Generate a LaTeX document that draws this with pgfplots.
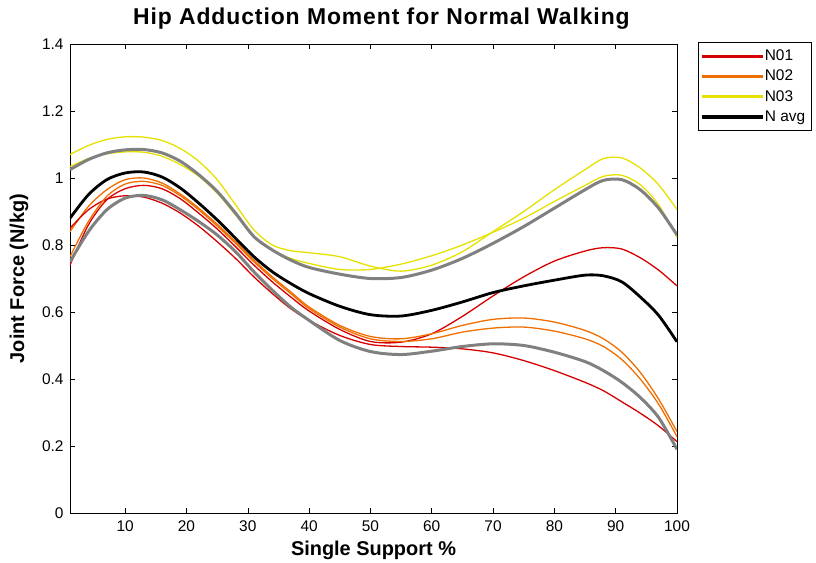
\documentclass[border=0pt]{standalone}
\usepackage{pgfplots}
\pgfplotsset{compat=1.18}
\usepackage{pgfplotstable}
\usepackage{fontspec}
\setmainfont{Liberation Sans}
\definecolor{cred}{RGB}{215,0,0}
\definecolor{corange}{RGB}{240,110,0}
\definecolor{cyellow}{RGB}{230,225,0}
\definecolor{cgrey}{RGB}{128,128,128}

\pgfplotstableread{
x y
1 1.07
4 1.097
7 1.115
10 1.123
13 1.122
16 1.112
19 1.088
22 1.05
25 0.995
28 0.92
31 0.845
34 0.80
37 0.783
40 0.777
45 0.765
50 0.737
55 0.722
60 0.74
65 0.78
70 0.84
75 0.9
80 0.965
85 1.025
88 1.058
91 1.06
94 1.03
97 0.98
100 0.906
}\yellowA
\pgfplotstableread{
x y
1 1.034
4 1.058
7 1.072
10 1.078
13 1.077
16 1.065
19 1.04
22 1.005
25 0.955
28 0.89
31 0.825
34 0.785
37 0.76
40 0.745
45 0.727
50 0.727
55 0.743
60 0.768
65 0.80
70 0.838
75 0.88
80 0.93
85 0.978
88 1.005
91 1.008
94 0.98
97 0.92
100 0.823
}\yellowB
\pgfplotstableread{
x y
1 1.025
4 1.055
7 1.075
10 1.084
13 1.085
16 1.075
19 1.05
22 1.01
25 0.96
28 0.895
31 0.825
34 0.785
37 0.755
40 0.733
45 0.713
50 0.70
55 0.703
60 0.725
65 0.76
70 0.805
75 0.855
80 0.91
85 0.965
88 0.993
91 0.995
94 0.965
97 0.91
100 0.83
}\greyU
\pgfplotstableread{
x y
1 0.88
4 0.95
7 0.995
10 1.015
13 1.018
16 1.003
19 0.97
22 0.925
25 0.875
28 0.82
31 0.765
34 0.72
37 0.685
40 0.655
45 0.617
50 0.592
55 0.588
60 0.605
65 0.63
70 0.658
75 0.678
80 0.695
85 0.71
88 0.708
91 0.69
94 0.645
97 0.59
100 0.511
}\navg
\pgfplotstableread{
x y
1 0.75
4 0.84
7 0.905
10 0.94
13 0.948
16 0.935
19 0.905
22 0.87
25 0.83
28 0.78
31 0.72
34 0.665
37 0.615
40 0.575
45 0.515
50 0.482
55 0.473
60 0.483
65 0.497
70 0.505
75 0.500
80 0.48
85 0.452
88 0.425
91 0.39
94 0.345
97 0.285
100 0.19
}\greyL
\pgfplotstableread{
x y
1 0.84
4 0.915
7 0.965
10 0.995
13 1.0
16 0.985
19 0.952
22 0.91
25 0.862
28 0.81
31 0.755
34 0.705
37 0.66
40 0.615
45 0.56
50 0.527
55 0.52
60 0.535
65 0.56
70 0.578
75 0.582
80 0.57
85 0.545
88 0.52
91 0.48
94 0.42
97 0.34
100 0.243
}\orangeA
\pgfplotstableread{
x y
1 0.765
4 0.87
7 0.945
10 0.982
13 0.99
16 0.978
19 0.947
22 0.905
25 0.857
28 0.805
31 0.75
34 0.70
37 0.655
40 0.61
45 0.555
50 0.52
55 0.512
60 0.52
65 0.54
70 0.552
75 0.555
80 0.543
85 0.52
88 0.497
91 0.458
94 0.40
97 0.325
100 0.228
}\orangeB
\pgfplotstableread{
x y
1 0.74
4 0.86
7 0.935
10 0.968
13 0.978
16 0.968
19 0.938
22 0.895
25 0.848
28 0.795
31 0.74
34 0.69
37 0.645
40 0.603
45 0.548
50 0.512
55 0.51
60 0.535
65 0.587
70 0.648
75 0.705
80 0.752
85 0.782
88 0.792
91 0.788
94 0.762
97 0.725
100 0.678
}\redP
\pgfplotstableread{
x y
1 0.85
4 0.905
7 0.937
10 0.947
13 0.943
16 0.925
19 0.895
22 0.856
25 0.81
28 0.76
31 0.705
34 0.655
37 0.61
40 0.575
45 0.53
50 0.503
55 0.497
60 0.495
65 0.49
70 0.478
75 0.455
80 0.425
85 0.39
88 0.365
91 0.332
94 0.298
97 0.26
100 0.213
}\redL

\begin{document}
\begin{tikzpicture}
\begin{axis}[
  scale only axis,
  width=607bp, height=469bp,
  xmin=1, xmax=100, ymin=0, ymax=1.4,
  xtick={10,20,...,100},
  ytick={0,0.2,0.4,0.6,0.8,1,1.2,1.4},
  yticklabels={0,0.2,0.4,0.6,0.8,1,1.2,1.4},
  tick align=inside, tick pos=both,
  major tick length=5bp,
  axis line style={line width=0.9bp},
  tick style={line width=0.6bp, black},
  /pgf/number format/assume math mode=true,
  tick label style={font=\fontsize{15.5}{18}\selectfont},
  xticklabel style={yshift=-4bp},
  yticklabel style={xshift=-3bp},
  title={Hip Adduction Moment for Normal Walking},
  title style={font=\bfseries\fontsize{23}{26}\selectfont\addfontfeatures{LetterSpace=4}, at={(axis description cs:0.513,1.041)}, anchor=center},
  xlabel={Single Support \%},
  xlabel style={font=\bfseries\fontsize{20}{24}\selectfont, at={(axis description cs:0.5,-0.079)}, anchor=center},
  ylabel={Joint Force (N/kg)},
  ylabel style={font=\bfseries\fontsize{20}{24}\selectfont, at={(axis description cs:-0.084,0.5)}, anchor=center},
  legend style={at={(axis description cs:1.035,1.004)}, anchor=north west, draw=black, fill=white,
    font=\fontsize{15.5}{18}\selectfont, inner xsep=4bp, inner ysep=5.5bp, row sep=4bp, cells={anchor=west}},
  legend image code/.code={\fill[#1] (0bp,-0.8bp) rectangle (60bp,0.8bp);},
]
\addplot[cred, line width=1.3bp, smooth, tension=0.5, forget plot] table {\redP};
\addplot[corange, line width=1.3bp, smooth, tension=0.5, forget plot] table {\orangeA};
\addplot[cyellow, line width=1.3bp, smooth, tension=0.5, forget plot] table {\yellowA};
\addplot[cred, line width=1.3bp, smooth, tension=0.5, forget plot] table {\redL};
\addplot[corange, line width=1.3bp, smooth, tension=0.5, forget plot] table {\orangeB};
\addplot[cyellow, line width=1.3bp, smooth, tension=0.5, forget plot] table {\yellowB};
\addplot[black, line width=2.8bp, smooth, tension=0.5, forget plot] table {\navg};
\addplot[cgrey, line width=3bp, smooth, tension=0.5, forget plot] table {\greyU};
\addplot[cgrey, line width=3bp, smooth, tension=0.5, forget plot] table {\greyL};
\addlegendimage{legend image code/.code={\fill[cred] (0bp,-0.8bp) rectangle (60bp,0.8bp);}}
\addlegendentry{N01}
\addlegendimage{legend image code/.code={\fill[corange] (0bp,-0.8bp) rectangle (60bp,0.8bp);}}
\addlegendentry{N02}
\addlegendimage{legend image code/.code={\fill[cyellow] (0bp,-0.8bp) rectangle (60bp,0.8bp);}}
\addlegendentry{N03}
\addlegendimage{legend image code/.code={\fill[black] (0bp,-1.5bp) rectangle (60bp,1.5bp);}}
\addlegendentry{N avg}
\end{axis}
\path[use as bounding box] ([shift={(-70bp,-49bp)}]current axis.south west) rectangle ([shift={(139bp,44bp)}]current axis.north east);
\end{tikzpicture}
\end{document}
